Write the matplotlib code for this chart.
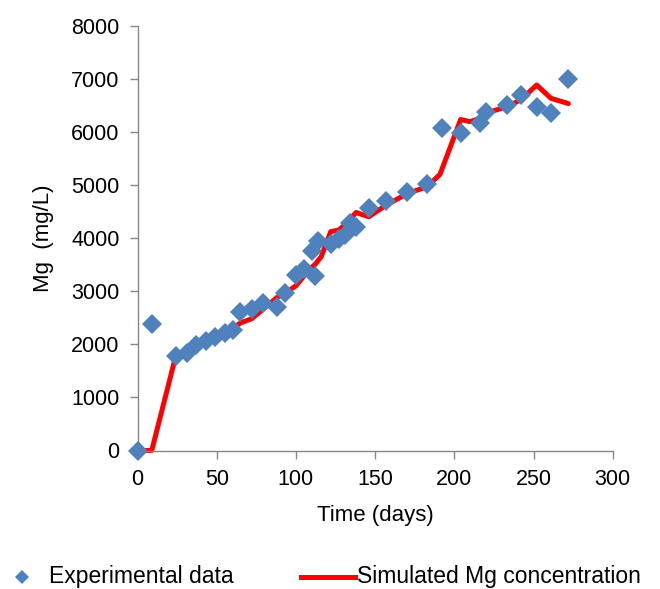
import matplotlib
matplotlib.use("Agg")
import matplotlib.pyplot as plt
from matplotlib.lines import Line2D

# Measured Mg concentration (mg/L) over time (days)
exp_days = [0, 9, 24, 31, 37, 43, 49, 55, 60, 65, 72, 79, 88, 93, 100, 105, 110, 112,
            114, 122, 127, 131, 134, 138, 146, 157, 170, 183, 192, 204, 216, 220, 233,
            242, 252, 261, 272]
exp_mg = [0, 2380, 1770, 1830, 1980, 2070, 2130, 2220, 2270, 2610, 2670, 2780, 2700,
          2960, 3310, 3420, 3760, 3280, 3950, 3880, 3980, 4050, 4290, 4200, 4570, 4690,
          4870, 5020, 6070, 5980, 6170, 6380, 6510, 6690, 6460, 6360, 6990]

# Model output
sim_days = [0, 9, 24, 31, 37, 43, 49, 55, 60, 65, 72, 79, 88, 93, 100, 105, 110, 112,
            116, 122, 127, 131, 134, 138, 146, 157, 170, 183, 191, 204, 210, 216, 220,
            233, 242, 252, 261, 272]
sim_mg = [0, 0, 1760, 1850, 1950, 2050, 2150, 2230, 2300, 2400, 2480, 2650, 2880, 2960,
          3100, 3280, 3450, 3500, 3650, 4120, 4150, 4250, 4350, 4480, 4400, 4620, 4830,
          4970, 5200, 6230, 6190, 6250, 6350, 6470, 6600, 6880, 6630, 6530]

x_ticks = [0, 50, 100, 150, 200, 250, 300]
y_ticks = [0, 1000, 2000, 3000, 4000, 5000, 6000, 7000, 8000]

BLUE = "#4F81BD"
RED = "#FF0000"
AXIS_GREY = "#868686"

plt.rcParams["font.family"] = ["Liberation Sans", "DejaVu Sans"]

fig = plt.figure(figsize=(6.6, 5.89), dpi=100)
ax = fig.add_axes([137.5 / 660, 1 - 450.5 / 589, 475.2 / 660, 425 / 589])

ax.plot(sim_days, sim_mg, color=RED, lw=3.6, solid_joinstyle="round",
        solid_capstyle="round", zorder=2, clip_on=False)
ax.plot(exp_days, exp_mg, linestyle="none", marker="D", markersize=10.5,
        color=BLUE, markeredgewidth=0, zorder=3, clip_on=False)

ax.set_xlim(0, 300)
ax.set_ylim(0, 8000)
ax.set_xticks(x_ticks)
ax.set_yticks(y_ticks)

for side in ("top", "right"):
    ax.spines[side].set_visible(False)
for side in ("left", "bottom"):
    ax.spines[side].set_color(AXIS_GREY)
    ax.spines[side].set_linewidth(1.0)

ax.tick_params(axis="both", direction="out", length=6, width=1.0,
               color=AXIS_GREY, labelsize=15.5, labelcolor="black")
ax.tick_params(axis="y", pad=7)
ax.tick_params(axis="x", pad=7)

ax.set_xlabel("Time (days)", fontsize=16, labelpad=11)
ax.set_ylabel("Mg  (mg/L)", fontsize=16, labelpad=12)

# Legend row under the plot
leg_y = 1 - 577 / 589
fig.add_artist(Line2D([22 / 660], [leg_y], marker="D", markersize=7.5, color=BLUE,
                      markeredgewidth=0, linestyle="none"))
fig.text(49 / 660, leg_y, "Experimental data", fontsize=16.5, va="center", ha="left")
fig.add_artist(Line2D([301 / 660, 355 / 660], [leg_y, leg_y], color=RED, lw=3.6))
fig.text(357 / 660, leg_y, "Simulated Mg concentration", fontsize=16.5,
         va="center", ha="left")

fig.savefig("out.png", dpi=100)
